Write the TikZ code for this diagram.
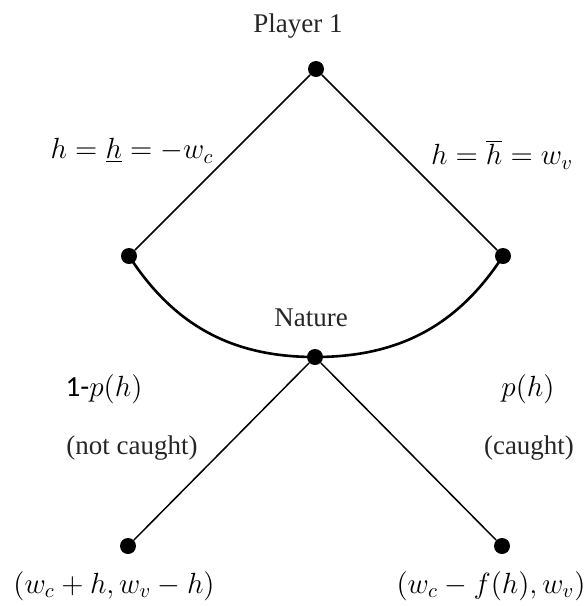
\RequirePackage{fix-cm}
\documentclass[tikz,border=0pt]{standalone}
\usepackage{fontspec}
\setmainfont{Liberation Serif}
\newfontfamily\calibri{Carlito}
\usetikzlibrary{positioning}

\begin{document}
\begin{tikzpicture}[
    x=0.5pt, y=-0.5pt,
    dot/.style={circle, fill=black, inner sep=0pt, minimum size=8pt},
    branch/.style={line width=0.75pt},
    infoset/.style={line width=1.3pt},
    who/.style={font=\fontsize{13.5}{16}\selectfont, text=black!85},
    lbl/.style={font=\fontsize{14.6}{17}\selectfont}
]
    \useasboundingbox (0,0) rectangle (587,606);

    % Player 1
    \node[dot] (p1) at (316,69) {};
    \node[dot] (lo) at (129,256) {};
    \node[dot] (hi) at (503,256) {};

    % Nature
    \node[dot] (nat) at (315,357) {};
    \node[dot] (free) at (128,546) {};
    \node[dot] (caught) at (502,546) {};

    % Branches
    \draw[branch] (p1) -- (lo);
    \draw[branch] (p1) -- (hi);
    \draw[branch] (nat) -- (free);
    \draw[branch] (nat) -- (caught);

    % Information set
    \draw[infoset] (lo.center) to[out=-57, in=180] (nat.center) to[out=0, in=-123] (hi.center);

    % Who moves
    \node[who] (p1lbl) at (298,26) {Player 1};
    \node[who] (natlbl) at (311,318) {Nature};

    % Actions
    \node[lbl] (lolbl) at (132,151) {$h=\underline{h}=-w_c$};
    \node[lbl] (hilbl) at (502,155) {$h=\overline{h}=w_v$};
    \node[lbl] (pfree) at (104,389) {{\calibri 1-}$p(h)$};
    \node[lbl] (pcaught) at (528,389) {$p(h)$};
    \node[who] (nclbl) at (132,448) {(not caught)};
    \node[who] (cglbl) at (529,448) {(caught)};

    % Payoffs
    \node[lbl] (payfree) at (114,586) {$(w_c+h, w_v-h)$};
    \node[lbl] (paycaught) at (491,586) {$(w_c-f(h), w_v)$};
\end{tikzpicture}
\end{document}
